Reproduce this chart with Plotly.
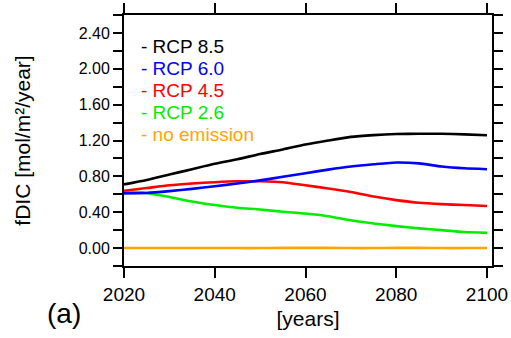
import plotly.graph_objects as go

years = [2020, 2025, 2030, 2035, 2040, 2045, 2050, 2055, 2060, 2065, 2070, 2075, 2080, 2085, 2090, 2095, 2100]
rcp85 = [0.71, 0.76, 0.82, 0.88, 0.94, 0.99, 1.05, 1.10, 1.155, 1.20, 1.24, 1.26, 1.272, 1.276, 1.275, 1.268, 1.258]
rcp60 = [0.61, 0.615, 0.635, 0.66, 0.69, 0.72, 0.755, 0.795, 0.835, 0.875, 0.91, 0.935, 0.955, 0.945, 0.91, 0.89, 0.88]
rcp45 = [0.64, 0.67, 0.70, 0.72, 0.735, 0.745, 0.745, 0.735, 0.70, 0.665, 0.625, 0.575, 0.535, 0.505, 0.49, 0.48, 0.47]
rcp26 = [0.635, 0.615, 0.57, 0.52, 0.48, 0.45, 0.43, 0.405, 0.385, 0.355, 0.31, 0.275, 0.245, 0.22, 0.20, 0.18, 0.17]
noemis = [0.0, 0.0, 0.0, 0.0, 0.0, 0.0, 0.0, 0.002, 0.002, 0.002, 0.0, 0.0, 0.002, 0.002, 0.0, 0.0, 0.0]

series_names = ["RCP 8.5", "RCP 6.0", "RCP 4.5", "RCP 2.6", "no emission"]
series_values = [rcp85, rcp60, rcp45, rcp26, noemis]
series_colors = ["#000000", "#0000FF", "#FF0000", "#00EE00", "#FFA500"]

x_ticks = [2020, 2040, 2060, 2080, 2100]
y_tick_vals = [-0.2, 0.0, 0.2, 0.4, 0.6, 0.8, 1.0, 1.2, 1.4, 1.6, 1.8, 2.0, 2.2, 2.4, 2.6]
y_tick_text = ["", "0.00", "", "0.40", "", "0.80", "", "1.20", "", "1.60", "", "2.00", "", "2.40", ""]

FONT = "Liberation Sans, Arial, Helvetica, sans-serif"

fig = go.Figure()
for name, vals, col in reversed(list(zip(series_names, series_values, series_colors))):
    fig.add_trace(go.Scatter(x=years, y=vals, mode="lines", name=name,
                             line=dict(color=col, width=2.6, shape="spline", smoothing=0.6),
                             showlegend=False))

row_y = [46.7, 68.7, 90.8, 112.7, 134.5]
plot_top, plot_bottom = 15, 266
for name, col, yy in zip(series_names, series_colors, row_y):
    fig.add_annotation(xref="paper", yref="paper", x=(139 - 124) / 368, y=(plot_bottom - yy) / (plot_bottom - plot_top),
                       xanchor="left", yanchor="middle", showarrow=False,
                       text="- " + name, font=dict(family=FONT, size=19, color=col))

fig.add_annotation(xref="paper", yref="paper", x=(45 - 124) / 368, y=-(313 - plot_bottom) / (plot_bottom - plot_top),
                   xanchor="left", yanchor="middle", showarrow=False,
                   text="(a)", font=dict(family=FONT, size=28, color="black"))

fig.update_layout(
    width=511, height=338,
    margin=dict(l=124, r=19, t=15, b=72, autoexpand=False),
    plot_bgcolor="white", paper_bgcolor="white",
    font=dict(family=FONT, color="black"),
)
fig.update_xaxes(range=[2020, 2101.1], tickvals=x_ticks, ticktext=[str(t) for t in x_ticks],
                 showline=True, linecolor="black", linewidth=2, mirror="ticks",
                 ticks="outside", ticklen=10, tickwidth=2, tickcolor="black",
                 showgrid=False, zeroline=False, tickfont=dict(size=19), automargin=False,
                 title=dict(text="[years]", font=dict(size=21), standoff=8))
fig.update_yaxes(range=[-0.2, 2.6], tickvals=y_tick_vals, ticktext=y_tick_text,
                 showline=True, linecolor="black", linewidth=2, mirror="ticks",
                 ticks="outside", ticklen=9, tickwidth=2, tickcolor="black",
                 showgrid=False, zeroline=False, tickfont=dict(size=16), automargin=False,
                 title=dict(text="fDIC [mol/m²/year]", font=dict(size=21), standoff=42))

fig.write_html("out.html", config={"displayModeBar": False},
               post_script="document.body.style.margin='0';document.body.style.overflow='hidden';")
